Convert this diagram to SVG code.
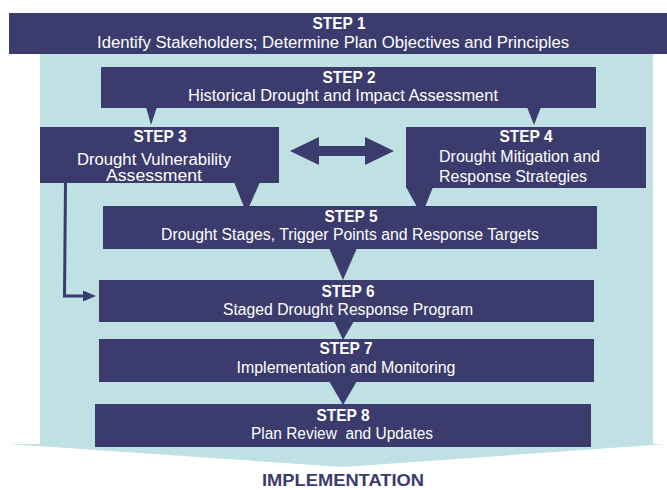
<svg xmlns="http://www.w3.org/2000/svg" width="667" height="490" viewBox="0 0 667 490">
<style>
.box{fill:#3b3b6d}
.bg{fill:#bfe1e4}
.ttl{font-family:"Liberation Sans",Arial,sans-serif;font-weight:bold;font-size:16.5px;fill:#ffffff;text-anchor:middle}
.sub{font-family:"Liberation Sans",Arial,sans-serif;font-size:16px;fill:#ffffff;text-anchor:middle}
.subl{font-family:"Liberation Sans",Arial,sans-serif;font-size:16px;fill:#ffffff}
.impl{font-family:"Liberation Sans",Arial,sans-serif;font-weight:bold;font-size:17px;fill:#3b3b6d;text-anchor:middle}
.tri{fill:#3b3b6d}
.line{fill:none;stroke:#3b3b6d;stroke-width:3}
</style>
<rect width="667" height="490" fill="#ffffff"/>
<g id="background">
<rect class="bg" x="40" y="54" width="613" height="391"/>
<polygon class="bg" points="8,444 667,444 343,467"/>
</g>
<g id="connectors">
<polygon class="tri" points="146,107 157,107 151,125"/>
<polygon class="tri" points="527,107 541,107 534,125"/>
<polygon class="tri" points="234,182 260,182 249,207 244,207"/>
<polygon class="tri" points="406,187 433,187 425,207 417,207"/>
<polygon class="tri" points="290,151 319,137 319,146 365,146 365,137 394,151 365,165 365,156 319,156 319,165"/>
<polygon class="tri" points="329,248 357,248 343,280"/>
<polygon class="tri" points="334,321 354,321 343,340"/>
<polygon class="tri" points="329,381 357,381 343,405"/>
<polyline class="line" points="65.5,183 64.5,296 85,296"/>
<polygon class="tri" points="83,290.5 96,296 83,301.5"/>
</g>
<g id="step1">
<rect class="box" x="9" y="13" width="658" height="41"/>
<text class="ttl" x="339" y="29" textLength="53" lengthAdjust="spacingAndGlyphs">STEP 1</text>
<text class="sub" x="333" y="48" textLength="472" lengthAdjust="spacingAndGlyphs">Identify Stakeholders; Determine Plan Objectives and Principles</text>
</g>
<g id="step2">
<rect class="box" x="101" y="67" width="495" height="41"/>
<text class="ttl" x="349" y="83" textLength="53" lengthAdjust="spacingAndGlyphs">STEP 2</text>
<text class="sub" x="343" y="101" textLength="310" lengthAdjust="spacingAndGlyphs">Historical Drought and Impact Assessment</text>
</g>
<g id="step3">
<rect class="box" x="40" y="127" width="239" height="56"/>
<text class="ttl" x="160" y="142" textLength="53" lengthAdjust="spacingAndGlyphs">STEP 3</text>
<text class="sub" x="154" y="165" textLength="154" lengthAdjust="spacingAndGlyphs">Drought Vulnerability</text>
<text class="sub" x="154" y="181" textLength="96" lengthAdjust="spacingAndGlyphs">Assessment</text>
</g>
<g id="step4">
<rect class="box" x="406" y="127" width="240" height="61"/>
<text class="ttl" x="526" y="142" textLength="53" lengthAdjust="spacingAndGlyphs">STEP 4</text>
<text class="subl" x="439" y="162" textLength="161" lengthAdjust="spacingAndGlyphs">Drought Mitigation and</text>
<text class="subl" x="439" y="182" textLength="148" lengthAdjust="spacingAndGlyphs">Response Strategies</text>
</g>
<g id="step5">
<rect class="box" x="103" y="206" width="494" height="43"/>
<text class="ttl" x="351" y="222" textLength="53" lengthAdjust="spacingAndGlyphs">STEP 5</text>
<text class="sub" x="350" y="240" textLength="378" lengthAdjust="spacingAndGlyphs">Drought Stages, Trigger Points and Response Targets</text>
</g>
<g id="step6">
<rect class="box" x="99" y="280" width="495" height="42"/>
<text class="ttl" x="348" y="297" textLength="53" lengthAdjust="spacingAndGlyphs">STEP 6</text>
<text class="sub" x="348" y="315" textLength="250" lengthAdjust="spacingAndGlyphs">Staged Drought Response Program</text>
</g>
<g id="step7">
<rect class="box" x="99" y="339" width="495" height="43"/>
<text class="ttl" x="346" y="354" textLength="53" lengthAdjust="spacingAndGlyphs">STEP 7</text>
<text class="sub" x="346" y="373" textLength="219" lengthAdjust="spacingAndGlyphs">Implementation and Monitoring</text>
</g>
<g id="step8">
<rect class="box" x="95" y="404" width="496" height="43"/>
<text class="ttl" x="343" y="421" textLength="53" lengthAdjust="spacingAndGlyphs">STEP 8</text>
<text class="sub" x="342" y="439" textLength="182" lengthAdjust="spacingAndGlyphs" xml:space="preserve">Plan Review  and Updates</text>
</g>
<g id="implementation">
<text class="impl" x="343" y="486" textLength="162" lengthAdjust="spacingAndGlyphs">IMPLEMENTATION</text>
</g>
</svg>
